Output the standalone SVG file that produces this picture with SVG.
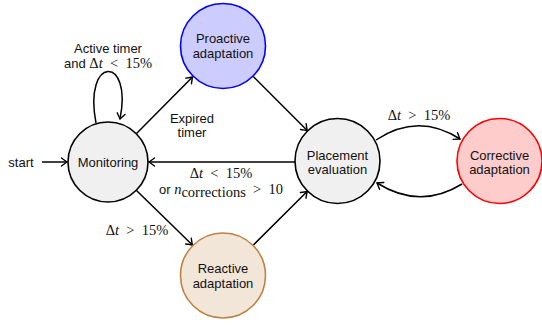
<svg xmlns="http://www.w3.org/2000/svg" width="542" height="325" viewBox="0 0 542 325">
<style>
.node{stroke-width:1.6}
.lbl{font-family:"Liberation Sans",Arial,sans-serif;font-size:13px;fill:#111;text-anchor:middle}
.m{font-family:"Liberation Serif","Times New Roman",serif;font-size:14.5px;fill:#111;text-anchor:middle}
.it{font-style:italic}
.edge{fill:none;stroke:#000;stroke-width:1.5}
</style>
<defs>
<marker id="arr" markerUnits="userSpaceOnUse" markerWidth="12" markerHeight="12" viewBox="-7 -6 8 12" refX="0" refY="0" orient="auto">
<path d="M -5.5 -4 Q -1.5 -1 0 0 Q -1.5 1 -5.5 4" fill="none" stroke="#000" stroke-width="1.4" stroke-linecap="round"/>
</marker>
</defs>
<g id="connectors">
<path class="edge" d="M 42 162 L 67 162" marker-end="url(#arr)"/>
<path class="edge" d="M 96 123 C 83 55 133 55 120 119" marker-end="url(#arr)"/>
<path class="edge" d="M 136.5 133.5 L 192.5 77" marker-end="url(#arr)"/>
<path class="edge" d="M 253.3 76.5 L 307.2 130.5" marker-end="url(#arr)"/>
<path class="edge" d="M 295 162 L 149 162" marker-end="url(#arr)"/>
<path class="edge" d="M 136.5 190.5 L 192.4 245" marker-end="url(#arr)"/>
<path class="edge" d="M 253.4 245 L 307.1 191.5" marker-end="url(#arr)"/>
<path class="edge" d="M 376 140 Q 418 112 460 139" marker-end="url(#arr)"/>
<path class="edge" d="M 462 184 Q 420 210 377 183" marker-end="url(#arr)"/>
<text class="lbl" x="21" y="166.5">start</text>
<text class="lbl" x="108" y="53">Active timer</text>
<text class="lbl" x="108" y="68"><tspan>and </tspan><tspan class="m">Δ<tspan class="it">t</tspan>&#8194;&lt;&#8194;15%</tspan></text>
<text class="lbl" x="192" y="123">Expired</text>
<text class="lbl" x="192" y="137">timer</text>
<text class="m" x="221" y="178">Δ<tspan class="it">t</tspan>&#8194;&lt;&#8194;15%</text>
<text class="lbl" x="221" y="194">or <tspan class="m it">n</tspan><tspan class="m" font-size="10.5" dy="2.5">corrections</tspan><tspan class="m" dy="-2.5">&#8194;&gt;&#8194;10</tspan></text>
<text class="m" x="137" y="235">Δ<tspan class="it">t</tspan>&#8194;&gt;&#8194;15%</text>
<text class="m" x="419" y="120">Δ<tspan class="it">t</tspan>&#8194;&gt;&#8194;15%</text>
</g>
<g id="monitoring">
<circle class="node" cx="108" cy="162" r="40" fill="#f0f0f0" stroke="#000"/>
<text class="lbl" x="108" y="166.5">Monitoring</text>
</g>
<g id="proactive">
<circle class="node" cx="223" cy="46" r="42.5" fill="#ccccff" stroke="#0000ff"/>
<text class="lbl" x="223" y="43">Proactive</text>
<text class="lbl" x="223" y="58">adaptation</text>
</g>
<g id="placement">
<circle class="node" cx="337.5" cy="161" r="42.5" fill="#f0f0f0" stroke="#000"/>
<text class="lbl" x="337.5" y="159.5">Placement</text>
<text class="lbl" x="337.5" y="174">evaluation</text>
</g>
<g id="corrective">
<circle class="node" cx="499.5" cy="161" r="42.5" fill="#ffcccc" stroke="#ff0000"/>
<text class="lbl" x="499.5" y="159.5">Corrective</text>
<text class="lbl" x="499.5" y="174">adaptation</text>
</g>
<g id="reactive">
<circle class="node" cx="223" cy="275.5" r="42.5" fill="#f2e6d9" stroke="#bf8040"/>
<text class="lbl" x="223" y="273">Reactive</text>
<text class="lbl" x="223" y="288">adaptation</text>
</g>
</svg>
